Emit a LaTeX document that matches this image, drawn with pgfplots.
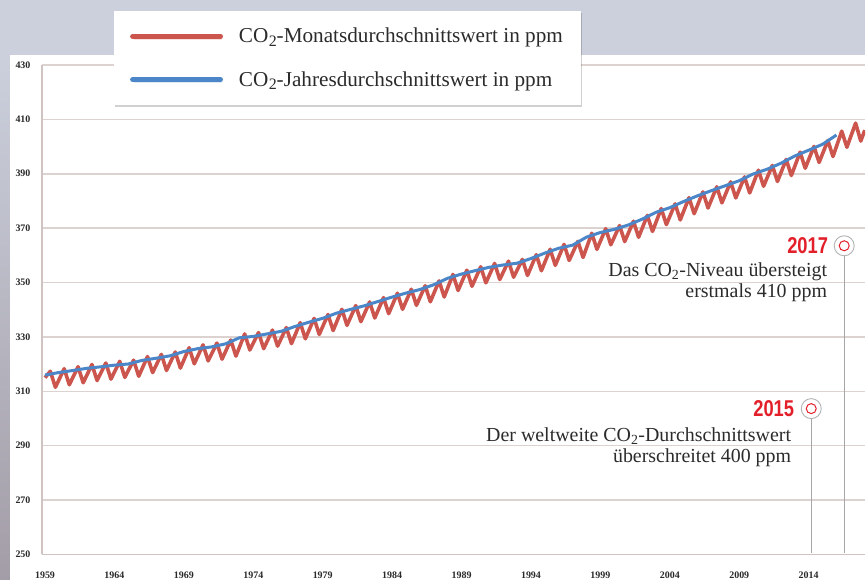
\documentclass[border=0pt]{standalone}
\usepackage{pgfplots}
\pgfplotsset{compat=1.18}
\usepackage{fontspec}
\setmainfont{Liberation Serif}
\newfontfamily\yearfont{Liberation Sans}
\usetikzlibrary{shadows}
\definecolor{bggray}{HTML}{CBD0DC}
\definecolor{bgdark}{HTML}{A39DA7}
\definecolor{redline}{HTML}{CC554D}
\definecolor{blueline}{HTML}{4A86C8}
\definecolor{gridc}{HTML}{DCD2D0}
\definecolor{axisc}{HTML}{CFC4C2}
\definecolor{annred}{HTML}{E3202A}
\definecolor{ticktext}{HTML}{2A2A2A}
\definecolor{anntext}{HTML}{2B2B2B}

\pgfplotstableread{
x y
1959.00 315.00
1959.38 317.37
1959.75 311.47
1960.38 318.31
1960.75 312.41
1961.38 319.04
1961.75 313.14
1962.38 319.85
1962.75 313.95
1963.38 320.39
1963.75 314.49
1964.38 321.02
1964.75 315.12
1965.38 321.44
1965.75 315.54
1966.38 322.78
1966.75 316.88
1967.38 323.56
1967.75 317.66
1968.38 324.44
1968.75 318.54
1969.38 326.02
1969.75 320.12
1970.38 327.08
1970.75 321.18
1971.38 327.72
1971.75 321.82
1972.38 328.85
1972.75 322.95
1973.38 331.08
1973.75 325.18
1974.38 331.58
1974.75 325.68
1975.38 332.51
1975.75 326.61
1976.38 333.44
1976.75 327.54
1977.38 335.23
1977.75 329.33
1978.38 336.80
1978.75 330.90
1979.38 338.24
1979.75 332.34
1980.38 340.15
1980.75 334.25
1981.38 341.51
1981.75 335.61
1982.38 342.85
1982.75 336.95
1983.38 344.45
1983.75 338.55
1984.38 346.05
1984.75 340.15
1985.38 347.52
1985.75 341.62
1986.38 348.82
1986.75 342.92
1987.38 350.59
1987.75 344.69
1988.38 352.97
1988.75 347.07
1989.38 354.52
1989.75 348.62
1990.38 355.79
1990.75 349.89
1991.38 357.01
1991.75 351.11
1992.38 357.85
1992.75 351.95
1993.38 358.50
1993.75 352.60
1994.38 360.23
1994.75 354.33
1995.38 362.22
1995.75 356.32
1996.38 364.01
1996.75 358.11
1997.38 365.13
1997.75 359.23
1998.38 368.10
1998.75 362.20
1999.38 369.78
1999.75 363.88
2000.38 370.95
2000.75 365.05
2001.38 372.54
2001.75 366.64
2002.38 374.68
2002.75 368.78
2003.38 377.20
2003.75 371.30
2004.38 378.92
2004.75 373.02
2005.38 381.20
2005.75 375.30
2006.38 383.30
2006.75 377.40
2007.38 385.19
2007.75 379.29
2008.38 387.00
2008.75 381.10
2009.38 388.83
2009.75 382.93
2010.38 391.30
2010.75 385.40
2011.38 393.05
2011.75 387.15
2012.38 395.25
2012.75 389.35
2013.38 397.92
2013.75 392.02
2014.38 400.05
2014.75 394.15
2015.38 402.23
2015.75 396.33
2016.38 405.64
2016.75 399.74
2017.38 408.60
2017.75 402.00
2018.04 406.00
}\monthly

\pgfplotstableread{
x y
1959 315.97
1960 316.91
1961 317.64
1962 318.45
1963 318.99
1964 319.62
1965 320.04
1966 321.38
1967 322.16
1968 323.04
1969 324.62
1970 325.68
1971 326.32
1972 327.45
1973 329.68
1974 330.18
1975 331.11
1976 332.04
1977 333.83
1978 335.40
1979 336.84
1980 338.75
1981 340.11
1982 341.45
1983 343.05
1984 344.65
1985 346.12
1986 347.42
1987 349.19
1988 351.57
1989 353.12
1990 354.39
1991 355.61
1992 356.45
1993 357.10
1994 358.83
1995 360.82
1996 362.61
1997 363.73
1998 366.70
1999 368.38
2000 369.55
2001 371.14
2002 373.28
2003 375.80
2004 377.52
2005 379.80
2006 381.90
2007 383.79
2008 385.60
2009 387.43
2010 389.90
2011 391.65
2012 393.85
2013 396.52
2014 398.65
2015 400.83
2016 404.24
}\annual

\begin{document}
\begin{tikzpicture}[x=1bp,y=1bp]
\fill[bggray] (0,0) rectangle (866,580);
\shade[top color=bggray, bottom color=bgdark] (0,0) rectangle (10,525);
\fill[white] (10,0) rectangle (866,525);
\begin{axis}[
  at={(42bp,25bp)}, anchor=south west,
  scale only axis, width=824bp, height=490bp,
  xmin=1958.78, xmax=2018.07, ymin=250, ymax=430,
  axis x line*=bottom, axis y line*=left,
  axis line style={draw=axisc, line width=1.6bp},
  xtick={1959,1964,...,2014},
  ytick={250,270,...,430},
  ymajorgrids,
  grid style={draw=gridc, line width=1.6bp},
  major tick length=0pt,
  /pgf/number format/1000 sep={},
  /pgf/number format/assume math mode=true,
  tick label style={font=\fontsize{10}{10}\selectfont\bfseries, text=ticktext},
  x tick label style={yshift=-14bp},
  y tick label style={xshift=-8bp},
  clip=true,
  legend cell align=left,
  legend image code/.code={\draw[#1, line width=5bp, line cap=round] (0bp,0bp) -- (88bp,0bp);},
  legend style={at={(axis description cs:0.0874,1.110)}, anchor=north west,
    draw=none, fill=white, font=\fontsize{21.3}{24}\selectfont,
    text=anntext,
    inner xsep=16bp, inner ysep=15bp, row sep=23bp, column sep=8bp,
    nodes={inner xsep=8bp},
    drop shadow={shadow xshift=1bp, shadow yshift=-2bp, opacity=0.18, fill=black}},
]
\addplot[redline, line width=3.6bp, line join=round] table[x=x, y=y] {\monthly};
\addlegendentry{CO\kern0.3bp\raisebox{-0.35ex}{\fontsize{16}{16}\selectfont 2}-Monatsdurchschnittswert in ppm\kern-6bp}
\addplot[blueline, line width=3bp, line join=round] table[x=x, y=y] {\annual};
\addlegendentry{CO\kern0.3bp\raisebox{-0.35ex}{\fontsize{16}{16}\selectfont 2}-Jahresdurchschnittswert in ppm}
\end{axis}
% annotations
\draw[gray!70, line width=0.9bp] (845,324) -- (845,26);
\draw[gray!70, line width=0.9bp] (812,161) -- (812,26);
\node[circle, draw=gray!60, fill=white, line width=0.9bp, minimum size=20bp, inner sep=0pt] at (845,334) {};
\node[circle, draw=annred, line width=1bp, minimum size=10bp, inner sep=0pt] at (845,334) {};
\node[circle, draw=gray!60, fill=white, line width=0.9bp, minimum size=20bp, inner sep=0pt] at (812,171) {};
\node[circle, draw=annred, line width=1bp, minimum size=10bp, inner sep=0pt] at (812,171) {};
\node[anchor=east, inner sep=0pt, text=annred] at (829,334) {\scalebox{0.8}[1]{\yearfont\bfseries\fontsize{23}{23}\selectfont 2017}};
\node[anchor=east, inner sep=0pt, text=annred] at (795,171) {\scalebox{0.8}[1]{\yearfont\bfseries\fontsize{23}{23}\selectfont 2015}};
\node[anchor=base east, inner sep=0pt, text=anntext, font=\fontsize{20}{22}\selectfont] at (828,303) {Das CO\textsubscript{2}-Niveau übersteigt};
\node[anchor=base east, inner sep=0pt, text=anntext, font=\fontsize{20}{22}\selectfont] at (828,282) {erstmals 410 ppm};
\node[anchor=base east, inner sep=0pt, text=anntext, font=\fontsize{20}{22}\selectfont] at (792,138) {Der weltweite CO\textsubscript{2}-Durchschnittswert};
\node[anchor=base east, inner sep=0pt, text=anntext, font=\fontsize{20}{22}\selectfont] at (792,117) {überschreitet 400 ppm};
\end{tikzpicture}
\end{document}
